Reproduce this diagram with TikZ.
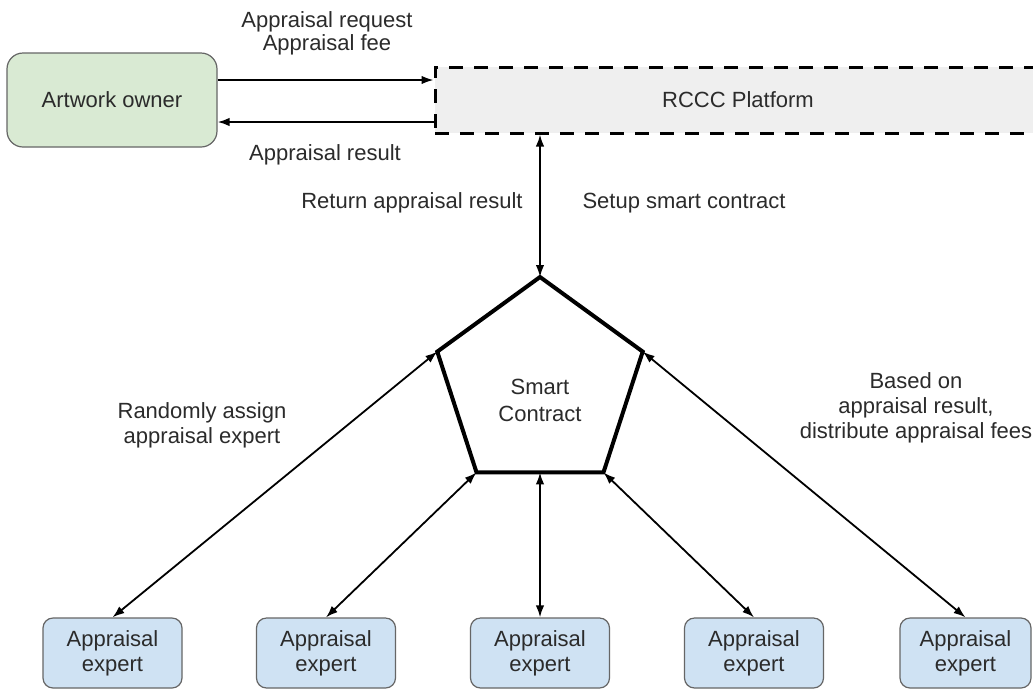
\documentclass[tikz,border=0pt]{standalone}
\usepackage{fontspec}
\setmainfont{Liberation Sans}
\usetikzlibrary{shapes.geometric,arrows.meta}
\definecolor{txt}{HTML}{2B2B2B}
\definecolor{greenfill}{HTML}{D9EAD3}
\definecolor{bluefill}{HTML}{CFE2F3}
\definecolor{grayfill}{HTML}{EFEFEF}
\definecolor{boxline}{HTML}{666666}
\begin{document}
\begin{tikzpicture}[x=1pt,y=-1pt,
  lbl/.style={font=\fontsize{22}{25}\selectfont, text=txt, align=center, inner sep=0pt},
  ownerbox/.style={lbl, draw=boxline, line width=1.2pt, fill=greenfill, rounded corners=16pt,
    minimum width=210pt, minimum height=94pt},
  platbox/.style={lbl, draw=black, line width=3pt, dash pattern=on 14pt off 11pt, fill=grayfill,
    minimum width=606pt, minimum height=66pt},
  expertbox/.style={lbl, draw=boxline, line width=1.2pt, fill=bluefill, rounded corners=10pt,
    minimum width=139pt, minimum height=70pt},
  pentagon/.style={regular polygon, regular polygon sides=5, draw=black, line width=4pt,
    minimum size=216pt, inner sep=0pt, outer sep=0pt},
  arr/.style={line width=1.8pt, -{Latex[length=12pt,width=8.5pt]}},
  darr/.style={line width=1.8pt, {Latex[length=12pt,width=8.5pt]}-{Latex[length=12pt,width=8.5pt]}}
]
\useasboundingbox (0,0) rectangle (1033,689);
\fill[white] (0,0) rectangle (1033,689);

% nodes
\node[ownerbox] (owner) at (112,100) {Artwork owner};
\node[platbox] (plat) at (738,100) {RCCC Platform};
\node[pentagon] (pent) at (540,385) {};
\node[lbl, font=\fontsize{22}{27}\selectfont] (sctext) at (540,400) {Smart\\Contract};

\node[expertbox] (e1) at (112.5,653) {Appraisal\\expert};
\node[expertbox] (e2) at (326,653) {Appraisal\\expert};
\node[expertbox] (e3) at (540,653) {Appraisal\\expert};
\node[expertbox] (e4) at (754,653) {Appraisal\\expert};
\node[expertbox, minimum width=131pt] (e5) at (965.5,653) {Appraisal\\expert};

% labels
\node[lbl, font=\fontsize{22}{23}\selectfont] (l1) at (327,33) {Appraisal request\\Appraisal fee};
\node[lbl] (l2) at (325,155) {Appraisal result};
\node[lbl] (l3) at (412,203) {Return appraisal result};
\node[lbl] (l4) at (684,203) {Setup smart contract};
\node[lbl] (l5) at (202,425) {Randomly assign\\appraisal expert};
\node[lbl] (l6) at (916,408) {Based on\\appraisal result,\\distribute appraisal fees};

% connectors
\draw[arr] ([yshift=20pt]owner.east) -- ([yshift=20pt]plat.west);
\draw[arr] ([yshift=-22pt]plat.west) -- ([yshift=-22pt]owner.east);
\draw[darr] (pent.corner 1 |- plat.south) -- (pent.corner 1);
\draw[darr] (pent.corner 2) -- (e1.north);
\draw[darr] (pent.corner 3) -- (e2.north);
\draw[darr] (pent.south) -- (e3.north);
\draw[darr] (pent.corner 4) -- (e4.north);
\draw[darr] (pent.corner 5) -- (e5.north);
\end{tikzpicture}
\end{document}
